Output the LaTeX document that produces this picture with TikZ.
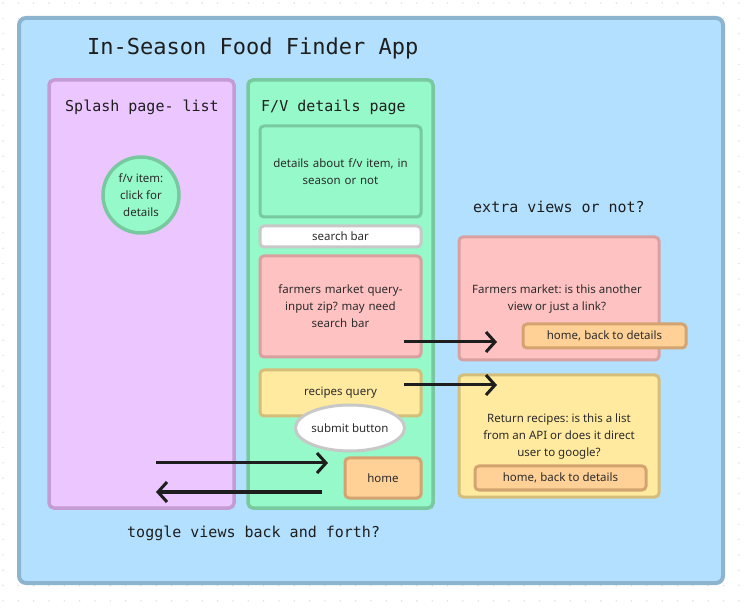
\documentclass[tikz,border=0pt]{standalone}
\usepackage{fontspec}
\setmainfont{Noto Sans}
\setmonofont{DejaVu Sans Mono}
\usetikzlibrary{arrows.meta,shapes.geometric,calc}
\frenchspacing
\definecolor{bgblue}{HTML}{B3E0FF}
\definecolor{bgblueb}{HTML}{8DB4CF}
\definecolor{lav}{HTML}{ECC6FF}
\definecolor{lavb}{HTML}{C49BD3}
\definecolor{mint}{HTML}{96F9C9}
\definecolor{mintb}{HTML}{78C9A0}
\definecolor{pinkf}{HTML}{FFC2C2}
\definecolor{pinkb}{HTML}{D9A0A0}
\definecolor{yelf}{HTML}{FFEA9F}
\definecolor{yelb}{HTML}{D5BD7A}
\definecolor{orf}{HTML}{FFD196}
\definecolor{orb}{HTML}{D3A470}
\definecolor{grayb}{HTML}{C8C8C8}
\definecolor{txt}{HTML}{2B2B2B}
\definecolor{ink}{HTML}{1E1E1E}
\definecolor{dotc}{HTML}{DDDDDD}
\tikzset{
  box/.style={draw, rectangle, rounded corners=5pt, line width=3.5pt, inner sep=0pt},
  body/.style={text=txt, font=\fontsize{11.5}{17}\selectfont, align=center},
  sbox/.style={draw, rectangle, rounded corners=4pt, line width=3pt, inner sep=0pt, body},
  mono/.style={font=\ttfamily, text=ink, inner sep=0pt},
  conn/.style={draw=ink, line width=3pt, -{Straight Barb[length=9pt,width=20pt,line width=3pt]}},
}
\begin{document}
\begin{tikzpicture}[x=1pt,y=-1pt]
\useasboundingbox (0,0) rectangle (750,609);
\fill[white] (0,0) rectangle (750,609);
\foreach \i in {0,...,48} {\foreach \j in {0,...,39} {
  \fill[dotc] ({3+15.33*\i},{3+15.33*\j}) circle (0.8pt);
}}
% outer frame
\node[box, draw=bgblueb, fill=bgblue, line width=4pt, rounded corners=7pt, minimum width=704pt, minimum height=565pt] (outer) at (371,300.5) {};
\node[mono, font=\ttfamily\fontsize{22}{26}\selectfont, anchor=west] (title) at (87,48) {In-Season Food Finder App};
% splash
\node[box, draw=lavb, fill=lav, minimum width=185pt, minimum height=428pt] (splash) at (141.5,294) {};
\node[mono, font=\ttfamily\fontsize{15}{18}\selectfont, anchor=west] (splasht) at (65,107) {Splash page- list};
\node[draw=mintb, fill=mint, circle, line width=3.5pt, minimum size=76pt, inner sep=0pt, body] (item) at (141,195) {f/v item:\\click for\\details};
% details page
\node[box, draw=mintb, fill=mint, minimum width=185pt, minimum height=428pt] (fv) at (340.5,294) {};
\node[mono, font=\ttfamily\fontsize{15}{18}\selectfont, anchor=west] (fvt) at (261,107) {F/V details page};
\node[sbox, draw=mintb, fill=mint, minimum width=161pt, minimum height=91pt, text width=150pt] (det) at (340.5,171.5) {details about f/v item, in\\season or not};
\node[sbox, draw=grayb, fill=white, minimum width=161pt, minimum height=21pt] (search) at (340.5,236.5) {search bar};
\node[sbox, draw=pinkb, fill=pinkf, minimum width=161pt, minimum height=101pt, text width=150pt] (fmq) at (340.5,306.5) {farmers market query-\\input zip? may need\\search bar};
\node[sbox, draw=yelb, fill=yelf, minimum width=161pt, minimum height=46pt] (rq) at (340.5,393) {recipes query};
\node[draw=grayb, fill=white, ellipse, line width=3pt, minimum width=106pt, minimum height=46pt, inner sep=0pt, body] (submit) at (350,428) {submit button};
\node[sbox, draw=orb, fill=orf, minimum width=76pt, minimum height=40pt] (home) at (383,478) {home};
% right side
\node[mono, font=\ttfamily\fontsize{15}{18}\selectfont, anchor=west] (extra) at (473,207) {extra views or not?};
\node[sbox, draw=pinkb, fill=pinkf, minimum width=200pt, minimum height=123pt] (fm) at (559,298.5) {};
\node[body] (fmt) at (557,299) {Farmers market: is this another\\view or just a link?};
\node[sbox, draw=orb, fill=orf, minimum width=163pt, minimum height=24pt] (fmhome) at (604.5,336) {home, back to details};
\node[sbox, draw=yelb, fill=yelf, minimum width=200pt, minimum height=122pt] (ret) at (559,436) {};
\node[body] (rett) at (559,437) {Return recipes: is this a list\\from an API or does it direct\\user to google?};
\node[sbox, draw=orb, fill=orf, minimum width=171pt, minimum height=24pt] (rethome) at (560.5,478) {home, back to details};
% arrows
\coordinate (a1s) at (404,342); \coordinate (a1e) at (497,342);
\coordinate (a2s) at (404,385); \coordinate (a2e) at (497,385);
\coordinate (a3s) at (156,463); \coordinate (a3e) at (328,463);
\coordinate (a4s) at (322,492); \coordinate (a4e) at (156,492);
\draw[conn] (a1s) -- (a1e);
\draw[conn] (a2s) -- (a2e);
\draw[conn] (a3s) -- (a3e);
\draw[conn] (a4s) -- (a4e);
\node[mono, font=\ttfamily\fontsize{15}{18}\selectfont, anchor=west] (toggle) at (127,533) {toggle views back and forth?};
\end{tikzpicture}
\end{document}
